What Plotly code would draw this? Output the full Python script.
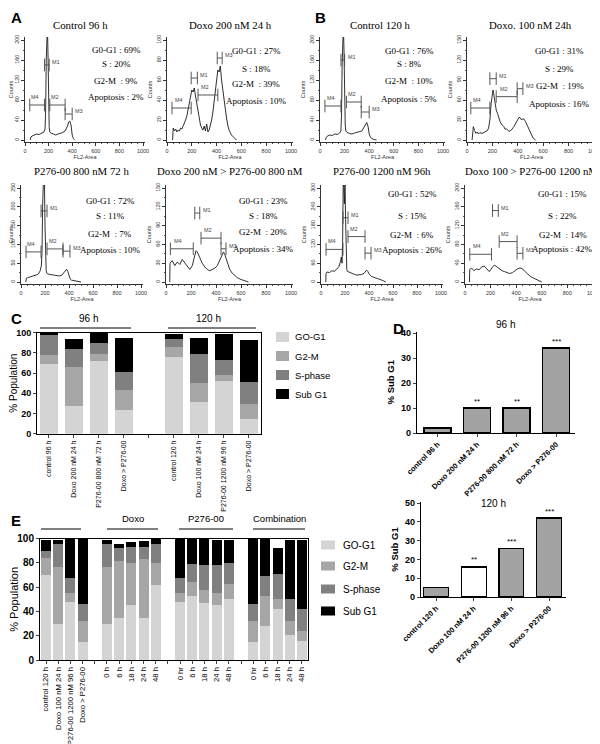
import plotly.graph_objects as go

W, H = 600, 744

# ======================= DATA =======================
# ---- Panel A / B : DNA content histograms (FL2-Area channel vs counts) ----
a1_title = "Control 96 h"
a1_channel = [45, 50, 60, 80, 100, 120, 140, 160, 170, 175, 180, 185, 190, 195, 200, 205, 210, 220, 240, 260,
              280, 300, 320, 340, 350, 360, 370, 380, 390, 400, 410, 420]
a1_counts = [0, 6, 8, 10, 12, 11, 14, 16, 22, 60, 160, 230, 230, 170, 70, 25, 16, 14, 12, 10,
             12, 13, 15, 18, 22, 28, 36, 38, 30, 10, 3, 0]
a1_stats = [69, 20, 9, 2]
a1_gates = {"M4": [40, 165, 70], "M1": [165, 205, 150], "M2": [210, 340, 70], "M3": [340, 400, 52]}
a1_yticks = [0, 40, 80, 120, 160, 200]

a2_title = "Doxo 200 nM 24 h"
a2_channel = [45, 50, 60, 70, 80, 90, 100, 110, 120, 130, 140, 150, 160, 170, 180, 190, 200, 210, 220, 230,
              240, 250, 260, 270, 280, 290, 300, 310, 320, 330, 340, 350, 360, 370, 380, 390, 400, 410, 420, 430,
              440, 450, 460, 470, 480, 490, 500, 520, 540, 560]
a2_counts = [0, 12, 9, 11, 8, 10, 9, 12, 11, 14, 16, 20, 24, 30, 38, 45, 50, 48, 52, 44,
             36, 28, 20, 15, 12, 10, 14, 9, 16, 8, 10, 14, 20, 28, 38, 50, 62, 70, 68, 74,
             60, 50, 38, 28, 22, 15, 10, 5, 2, 0]
a2_stats = [27, 18, 39, 10]
a2_gates = {"M4": [40, 195, 32], "M1": [195, 245, 62], "M2": [250, 410, 45], "M3": [405, 445, 82]}
a2_yticks = [0, 20, 40, 60, 80, 100]

b1_title = "Control 120 h"
b1_channel = [45, 50, 60, 80, 100, 120, 140, 160, 170, 175, 180, 185, 190, 195, 200, 205, 210, 220, 240, 260,
              280, 300, 320, 340, 350, 360, 370, 380, 390, 400, 410, 420, 440, 460]
b1_counts = [0, 5, 8, 10, 9, 12, 11, 14, 18, 50, 150, 230, 230, 180, 80, 30, 18, 15, 13, 12,
             14, 15, 16, 18, 22, 27, 32, 35, 28, 12, 6, 3, 1, 0]
b1_stats = [76, 8, 10, 5]
b1_gates = {"M4": [40, 170, 68], "M1": [170, 200, 160], "M2": [215, 335, 76], "M3": [335, 400, 56]}
b1_yticks = [0, 40, 80, 120, 160, 200]

b2_title = "Doxo. 100 nM 24h"
b2_channel = [40, 45, 50, 60, 70, 80, 90, 100, 120, 140, 160, 170, 180, 190, 200, 205, 210, 220, 230, 240,
              250, 260, 270, 280, 290, 300, 310, 320, 330, 340, 350, 360, 370, 380, 390, 400, 410, 420, 430, 440,
              450, 460, 470, 480, 490, 500, 510, 520, 540]
b2_counts = [0, 12, 20, 14, 10, 12, 9, 11, 10, 12, 14, 18, 30, 55, 72, 75, 70, 55, 45, 40,
             32, 28, 24, 22, 20, 16, 17, 15, 13, 14, 15, 18, 20, 24, 28, 32, 34, 33, 30, 32,
             31, 28, 24, 18, 14, 10, 6, 3, 0]
b2_stats = [31, 29, 19, 16]
b2_gates = {"M4": [30, 180, 48], "M1": [180, 230, 92], "M2": [230, 395, 65], "M3": [395, 440, 77]}
b2_yticks = [0, 30, 60, 90, 120, 150]

a3_title = "P276-00 800 nM 72 h"
a3_channel = [40, 45, 60, 80, 100, 120, 140, 150, 160, 170, 175, 180, 185, 190, 195, 200, 205, 210, 215, 220,
              240, 260, 280, 300, 320, 340, 350, 360, 370, 380, 390, 400, 410, 420, 440, 460, 480, 500]
a3_counts = [0, 10, 12, 14, 15, 18, 20, 24, 30, 45, 80, 200, 300, 300, 280, 150, 60, 30, 24, 22,
             20, 18, 18, 17, 16, 18, 22, 28, 32, 34, 28, 15, 8, 5, 4, 3, 2, 0]
a3_stats = [72, 11, 7, 10]
a3_gates = {"M4": [42, 167, 80], "M1": [167, 217, 189], "M2": [217, 350, 88], "M3": [350, 408, 82]}
a3_yticks = [0, 50, 100, 150, 200, 250]

a4_title = "Doxo 200 nM > P276-00 800 nM"
a4_channel = [30, 32, 50, 70, 90, 110, 130, 150, 170, 190, 210, 230, 240, 250, 270, 290, 310, 330, 350, 370,
              390, 410, 430, 450, 460, 470, 490, 510, 530, 550, 570, 600, 630, 660]
a4_counts = [0, 30, 34, 26, 32, 28, 36, 30, 24, 20, 26, 42, 50, 48, 38, 30, 24, 20, 18, 20,
             22, 26, 36, 44, 48, 44, 30, 20, 14, 10, 7, 4, 2, 0]
a4_stats = [23, 18, 20, 34]
a4_gates = {"M4": [35, 218, 53], "M1": [230, 270, 110], "M2": [280, 440, 70], "M3": [440, 480, 53]}
a4_yticks = [0, 30, 60, 90, 120, 150]

b3_title = "P276-00 1200 nM 96h"
b3_channel = [40, 42, 50, 70, 90, 110, 130, 150, 160, 170, 175, 180, 185, 190, 195, 200, 205, 210, 215, 220,
              240, 260, 280, 300, 320, 340, 360, 370, 380, 390, 400, 420, 440, 460, 480, 500, 520, 540]
b3_counts = [0, 28, 32, 30, 36, 34, 40, 50, 62, 80, 60, 120, 310, 310, 250, 310, 200, 60, 40, 34,
             30, 28, 24, 22, 22, 24, 28, 32, 38, 34, 26, 18, 14, 12, 10, 8, 4, 0]
b3_stats = [52, 15, 6, 26]
b3_gates = {"M4": [42, 183, 104], "M1": [183, 225, 205], "M2": [225, 367, 145], "M3": [367, 417, 92]}
b3_yticks = [0, 60, 120, 180, 240, 300]

b4_title = "Doxo 100 > P276-00 1200 nM"
b4_channel = [35, 37, 50, 70, 90, 110, 130, 150, 170, 190, 210, 230, 250, 270, 290, 310, 330, 350, 370, 390,
              410, 430, 450, 470, 490, 510, 530, 550, 570, 600]
b4_counts = [0, 26, 30, 24, 28, 26, 32, 34, 28, 22, 30, 36, 32, 28, 24, 22, 20, 18, 20, 24,
             28, 30, 28, 22, 16, 12, 9, 6, 3, 0]
b4_stats = [15, 22, 14, 42]
b4_gates = {"M4": [37, 207, 59], "M1": [215, 260, 152], "M2": [267, 407, 86], "M3": [407, 452, 61]}
b4_yticks = [0, 40, 80, 120, 160, 200]

stat_names = ["G0-G1 : {}%", "S : {}%", "G2-M  : {}%", "Apoptosis : {}%"]
hist_xticks = [0, 200, 400, 600, 800, 1000]

# ---- Panel C : cell-cycle distribution (stacked %) ----
c_labels = ["control 96 h", "Doxo 200 nM 24 h", "P276-00 800 nM 72 h", "Doxo > P276-00", "",
            "control 120 h", "Doxo 100 nM 24 h", "P276-00 1200 nM 96 h", "Doxo > P276-00"]
c_g0g1 = [69, 27, 72, 23, None, 76, 31, 52, 15]
c_g2m = [9, 39, 7, 20, None, 10, 19, 6, 14]
c_sphase = [20, 18, 11, 18, None, 8, 29, 15, 22]
c_subg1 = [2, 10, 10, 34, None, 5, 16, 26, 42]
c_groups = ["96 h", "120 h"]

# ---- Panel D : % Sub G1 ----
d96_labels = ["control 96 h", "Doxo 200 nM 24 h", "P276-00 800 nM 72 h", "Doxo > P276-00"]
d96_values = [2, 10, 10, 34]
d96_stars = ["", "**", "**", "***"]
d120_labels = ["control 120 h", "Doxo 100 nM 24 h", "P276-00 1200 nM 96 h", "Doxo > P276-00"]
d120_values = [5, 16, 26, 42]
d120_stars = ["", "**", "***", "***"]

# ---- Panel E : time course (stacked %) ----
e_labels = ["control 120 h", "Doxo 100 nM 24 h", "P276-00 1200 nM 96 h", "Doxo > P276-00", "",
            "0 h", "6 h", "18 h", "24 h", "48 h", "",
            "0 hr", "6 h", "18 h", "24 h", "48 h", "",
            "0 hr", "6 h", "18 h", "24 h", "48 h"]
e_g0g1 = [70, 30, 48, 15, None, 30, 35, 45, 35, 62, None, 48, 53, 47, 45, 50, None, 15, 28, 42, 21, 16]
e_g2m = [14, 47, 7, 17, None, 47, 47, 35, 48, 18, None, 7, 11, 11, 10, 13, None, 17, 25, 8, 11, 8]
e_sphase = [6, 19, 13, 14, None, 19, 10, 13, 10, 16, None, 13, 15, 20, 23, 17, None, 14, 16, 21, 18, 18]
e_subg1 = [9, 3, 32, 54, None, 3, 4, 4, 5, 4, None, 32, 21, 22, 21, 19, None, 54, 31, 21, 49, 57]
e_groups = ["", "Doxo", "P276-00", "Combination"]

phase_names = ["GO-G1", "G2-M", "S-phase", "Sub G1"]

# ======================= STYLE / LAYOUT =======================
phase_colors = ["#d4d4d4", "#a6a6a6", "#808080", "#000000"]
SANS = "Liberation Sans, Arial, sans-serif"
SERIF = "Liberation Serif, Times New Roman, serif"

fig = go.Figure()
layout = dict(width=W, height=H, margin=dict(l=0, r=0, t=0, b=0), template="none",
              paper_bgcolor="white", plot_bgcolor="rgba(0,0,0,0)", showlegend=False,
              barmode="stack", font=dict(family=SANS, color="black"))
annotations = []
shapes = []
naxes = [0]


def lin(p, p0, v0, p1, v1):
    return v0 + (p - p0) * (v1 - v0) / (p1 - p0)


def add_axes(x_dom, y_dom, x_cal, y_cal, xkw, ykw):
    naxes[0] += 1
    n = naxes[0]
    sx = "" if n == 1 else str(n)
    xr = [lin(x_dom[0], *x_cal), lin(x_dom[1], *x_cal)]
    yr = [lin(y_dom[1], *y_cal), lin(y_dom[0], *y_cal)]
    base = dict(showgrid=False, zeroline=False, automargin=False, showline=True, linecolor="black")
    layout["xaxis" + sx] = dict(base, domain=[x_dom[0] / W, x_dom[1] / W], range=xr, anchor="y" + sx, **xkw)
    layout["yaxis" + sx] = dict(base, domain=[1 - y_dom[1] / H, 1 - y_dom[0] / H], range=yr, anchor="x" + sx, **ykw)
    return "x" + sx, "y" + sx


def ptext(x, y, text, size, family=SANS, bold=False, xanchor="center"):
    annotations.append(dict(xref="paper", yref="paper", x=x / W, y=1 - y / H, text=text, showarrow=False,
                            xanchor=xanchor, yanchor="middle",
                            font=dict(size=size, family=family, color="black",
                                      weight="bold" if bold else "normal")))


def pline(x0, x1, y, width=1.2):
    shapes.append(dict(type="line", xref="paper", yref="paper", x0=x0 / W, x1=x1 / W, y0=1 - y / H, y1=1 - y / H,
                       line=dict(color="black", width=width)))


# ---------- histograms ----------
hists = [
    (a1_title, a1_channel, a1_counts, a1_stats, a1_gates, a1_yticks, (17, 135), 132, 32, 72, 17, 0.76, [0.88, 0.74, 0.58, 0.43]),
    (a2_title, a2_channel, a2_counts, a2_stats, a2_gates, a2_yticks, (159, 283), 132, 32, 222, 17, 0.71, [0.87, 0.70, 0.55, 0.39]),
    (b1_title, b1_channel, b1_counts, b1_stats, b1_gates, b1_yticks, (312, 435), 132, 32, 372, 17, 0.715, [0.87, 0.74, 0.58, 0.41]),
    (b2_title, b2_channel, b2_counts, b2_stats, b2_gates, b2_yticks, (459, 586), 132, 32, 522, 17, 0.72, [0.87, 0.70, 0.53, 0.36]),
    (a3_title, a3_channel, a3_counts, a3_stats, a3_gates, a3_yticks, (13, 133), 274, 180, 73, 163, 0.73, [0.84, 0.69, 0.51, 0.34]),
    (a4_title, a4_channel, a4_counts, a4_stats, a4_gates, a4_yticks, (158, 283), 274, 180, 222, 163, 0.765, [0.84, 0.69, 0.53, 0.35]),
    (b3_title, b3_channel, b3_counts, b3_stats, b3_gates, b3_yticks, (313, 433), 274, 180, 374, 163, 0.75, [0.91, 0.69, 0.49, 0.34]),
    (b4_title, b4_channel, b4_counts, b4_stats, b4_gates, b4_yticks, (457, 585), 274, 180, 523, 163, 0.75, [0.91, 0.69, 0.49, 0.35]),
]

tiny = dict(size=5.5, family=SANS, color="#333")
for (title, ch, ct, stats, gates, yt, (p0, p1), zero, top, tx, ty, sx, sy) in hists:
    xkw = dict(tickmode="array", tickvals=hist_xticks, ticks="outside", ticklen=3, tickwidth=0.8, tickcolor="#333",
               tickfont=tiny, linewidth=0.9, linecolor="#333",
               minor=dict(ticks="outside", ticklen=1.5, dtick=50, tickcolor="#555", tickwidth=0.6),
               title=dict(text="FL2-Area", font=tiny, standoff=2))
    ykw = dict(tickmode="array", tickvals=yt, ticks="outside", ticklen=3, tickwidth=0.8, tickcolor="#333",
               tickfont=tiny, tickangle=-90, linewidth=0.9, linecolor="#333",
               minor=dict(ticks="outside", ticklen=1.5, tickvals=[v + (yt[1] - yt[0]) / 2 for v in yt[:-1]],
                          tickcolor="#555", tickwidth=0.6),
               title=dict(text="Counts", font=tiny, standoff=2))
    xa, ya = add_axes((p0, p1 + 2), (top - 3, zero + 2), (p0, 0, p1, 1000), (zero, 0, top, yt[-1]), xkw, ykw)
    fig.add_trace(go.Scatter(x=ch, y=ct, mode="lines", line=dict(color="#1a1a1a", width=0.9),
                             xaxis=xa, yaxis=ya, hoverinfo="skip"))
    for name, (g0, g1, gy) in gates.items():
        fig.add_trace(go.Scatter(x=[g0, g1], y=[gy, gy], mode="lines+markers",
                                 line=dict(color="#444", width=0.9),
                                 marker=dict(symbol="line-ns-open", size=9, line=dict(color="#444", width=0.9)),
                                 xaxis=xa, yaxis=ya, hoverinfo="skip"))
        if name in ("M1", "M3"):
            annotations.append(dict(xref=xa, yref=ya, x=g1, y=gy, text=name, showarrow=False, xanchor="left",
                                    yanchor="middle", xshift=1, yshift=3,
                                    font=dict(size=5.5, family=SANS, color="#444")))
        else:
            annotations.append(dict(xref=xa, yref=ya, x=g0 + 0.35 * (g1 - g0), y=gy, text=name, showarrow=False,
                                    xanchor="center", yanchor="middle", yshift=8,
                                    font=dict(size=5.5, family=SANS, color="#444")))
    for i, v in enumerate(stats):
        annotations.append(dict(xref=xa + " domain", yref=ya + " domain", x=sx, y=sy[i],
                                text=stat_names[i].format(v), showarrow=False, xanchor="center", yanchor="middle",
                                font=dict(size=9, family=SERIF, color="black")))
    ptext(tx, ty, title, 10.8, family=SERIF)

# ---------- Panel C ----------
c_x = list(range(len(c_labels)))
ax_font = dict(size=9, family=SANS, color="black", weight="bold")
xkw = dict(tickmode="array", tickvals=c_x, ticktext=c_labels, tickangle=-90, ticks="outside", ticklen=3,
           tickfont=dict(size=7, family=SANS, color="black"), mirror=True, linewidth=1)
ykw = dict(tickmode="array", tickvals=[0, 20, 40, 60, 80, 100], ticks="outside", ticklen=3, tickfont=ax_font,
           mirror=True, linewidth=1, title=dict(text="% Population", font=dict(size=10, family=SANS), standoff=4))
xa, ya = add_axes((29, 253), (324.7, 425.7), (40.5, 0, 65.5, 1), (425.7, 0, 324.7, 100), xkw, ykw)
for name, vals, col in zip(phase_names, [c_g0g1, c_g2m, c_sphase, c_subg1], phase_colors):
    fig.add_trace(go.Bar(x=c_x, y=vals, name=name, marker=dict(color=col, line=dict(width=0)), width=0.72,
                         xaxis=xa, yaxis=ya, hoverinfo="skip"))
ptext(80, 310, c_groups[0], 10)
ptext(200, 310, c_groups[1], 10)
pline(32, 123, 320)
pline(160, 248, 320)
for i, name in enumerate(phase_names):
    yc = [329, 348, 367, 386][i]
    shapes.append(dict(type="rect", xref="paper", yref="paper", x0=268 / W, x1=281 / W,
                       y0=1 - (yc + 5) / H, y1=1 - (yc - 5) / H, fillcolor=phase_colors[i], line=dict(width=0)))
    ptext(285, yc, name, 9.5, xanchor="left")

# ---------- Panel D (96 h) ----------
d_font = dict(size=7.5, family=SANS, color="black", weight="bold")
xkw = dict(tickmode="array", tickvals=[0, 1, 2, 3], ticktext=d96_labels, tickangle=-45, ticks="outside", ticklen=3,
           tickfont=d_font, linewidth=1.3)
ykw = dict(tickmode="array", tickvals=[0, 10, 20, 30, 40], ticks="outside", ticklen=3, tickfont=ax_font,
           linewidth=1.3, title=dict(text="<b>% Sub G1</b>", font=dict(size=9.5, family=SANS), standoff=4))
xa, ya = add_axes((409, 567), (323.5, 425), (429.5, 0, 469, 1), (425, 0, 350, 30), xkw, ykw)
fig.add_trace(go.Bar(x=[0, 1, 2, 3], y=d96_values, width=0.68, marker=dict(color="#a3a3a3", line=dict(color="black", width=1.2)),
                     xaxis=xa, yaxis=ya, hoverinfo="skip"))
for i, s in enumerate(d96_stars):
    if s:
        annotations.append(dict(xref=xa, yref=ya, x=i, y=d96_values[i], text=s, showarrow=False, yshift=7,
                                xanchor="center", yanchor="middle", font=dict(size=8, family=SANS)))
ptext(497, 316, "96 h", 10)

# ---------- Panel D (120 h) ----------
xkw = dict(tickmode="array", tickvals=[0, 1, 2, 3], ticktext=d120_labels, tickangle=-45, ticks="outside", ticklen=3,
           tickfont=d_font, linewidth=1.3)
ykw = dict(tickmode="array", tickvals=[0, 10, 20, 30, 40, 50], ticks="outside", ticklen=3, tickfont=ax_font,
           linewidth=1.3, title=dict(text="<b>% Sub G1</b>", font=dict(size=9.5, family=SANS), standoff=4))
xa, ya = add_axes((413, 558), (494, 589), (428, 0, 465.7, 1), (589, 0, 495, 50), xkw, ykw)
d120_fill = ["#a3a3a3", "white", "#a3a3a3", "#a3a3a3"]
fig.add_trace(go.Bar(x=[0, 1, 2, 3], y=d120_values, width=0.66,
                     marker=dict(color=d120_fill, line=dict(color="black", width=1.2)),
                     xaxis=xa, yaxis=ya, hoverinfo="skip"))
for i, s in enumerate(d120_stars):
    if s:
        annotations.append(dict(xref=xa, yref=ya, x=i, y=d120_values[i], text=s, showarrow=False, yshift=7,
                                xanchor="center", yanchor="middle", font=dict(size=8, family=SANS)))
ptext(485, 495, "120 h", 10)

# ---------- Panel E ----------
e_x = list(range(len(e_labels)))
xkw = dict(tickmode="array", tickvals=e_x, ticktext=e_labels, tickangle=-90, ticks="outside", ticklen=3,
           tickfont=dict(size=7.7, family=SANS, color="black"), mirror=True, linewidth=1)
ykw = dict(tickmode="array", tickvals=[0, 20, 40, 60, 80, 100], ticks="outside", ticklen=3,
           tickfont=dict(size=10, family=SANS, color="black", weight="bold"),
           mirror=True, linewidth=1, title=dict(text="% Population", font=dict(size=11, family=SANS), standoff=4))
xa, ya = add_axes((32, 300), (530.7, 652), (38, 0, 50.19, 1), (652, 0, 530.7, 100), xkw, ykw)
for name, vals, col in zip(phase_names, [e_g0g1, e_g2m, e_sphase, e_subg1], phase_colors):
    fig.add_trace(go.Bar(x=e_x, y=vals, name=name, marker=dict(color=col, line=dict(width=0)), width=0.82,
                         xaxis=xa, yaxis=ya, hoverinfo="skip"))
for (x0, x1), g in zip([(33, 73), (99, 150), (171, 225), (245, 297)], e_groups):
    pline(x0, x1, 521)
    if g:
        ptext((x0 + x1) / 2, 511, g, 9.5)
for i, name in enumerate(phase_names):
    yc = [537, 558, 581, 603][i]
    shapes.append(dict(type="rect", xref="paper", yref="paper", x0=313 / W, x1=327 / W,
                       y0=1 - (yc + 4.5) / H, y1=1 - (yc - 4.5) / H, fillcolor=phase_colors[i], line=dict(width=0)))
    ptext(333, yc, name, 10, xanchor="left")

# ---------- panel letters ----------
for L, (x, y) in zip("ABCDE", [(8, 10), (313, 10), (8, 310), (391, 320), (8, 512)]):
    ptext(x, y, L, 15, bold=True)

layout["annotations"] = annotations
layout["shapes"] = shapes
fig.update_layout(**layout)
fig.write_html("out.html")
